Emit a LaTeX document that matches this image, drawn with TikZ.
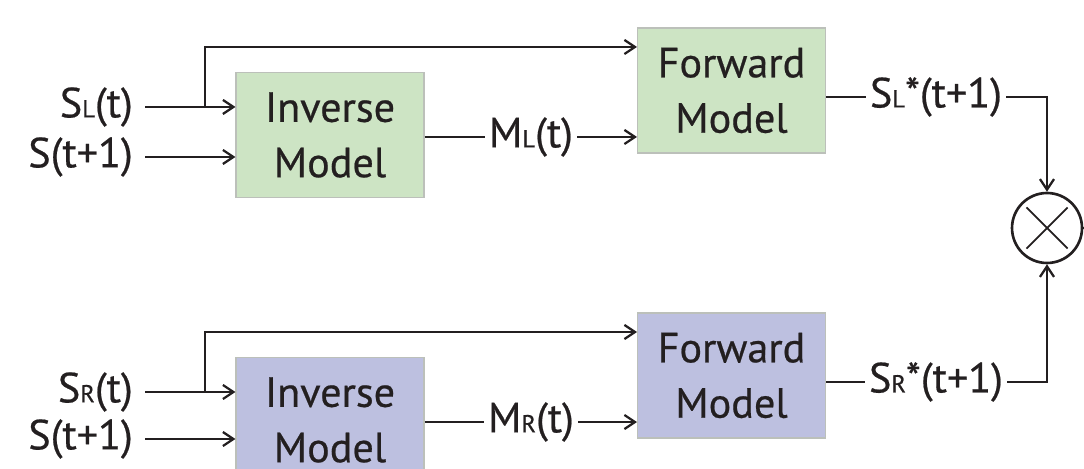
\documentclass[tikz,border=0pt]{standalone}
\usepackage{fontspec}
\setmainfont{PT Sans}[FakeBold=0.5]
\usetikzlibrary{arrows.meta, calc, positioning}

\definecolor{boxgreen}{RGB}{205,228,196}
\definecolor{boxblue}{RGB}{189,192,224}
\definecolor{boxedge}{RGB}{188,192,186}
\definecolor{ink}{RGB}{35,31,32}

% small side index (L / R) set on the baseline
\newcommand{\sideidx}[1]{{\fontsize{14}{14}\selectfont #1}}

\begin{document}
\begin{tikzpicture}[x=0.02cm, y=-0.02cm, >={Straight Barb[length=6pt,width=8pt]},
	font=\fontsize{24}{31.5}\selectfont, color=ink, line width=1.3pt,
	model/.style={draw=boxedge, line width=0.6pt, text=ink, align=center,
		minimum width=3.76cm, minimum height=2.5cm, inner sep=0pt},
	lbl/.style={inner sep=0.06cm}]
	
	\useasboundingbox (0,0) rectangle (1084,469);
	
	% --- LEFT CHANNEL ---
	\node[model, fill=boxgreen] (invL) at (330,135) {Inverse\\Model};
	\node[model, fill=boxgreen] (fwdL) at (731.5,90.5) {Forward\\Model};
	
	\node[lbl, anchor=east] (sl) at (137,107) {S\sideidx{L}(t)};
	\node[lbl, anchor=east] (snextL) at (137,157) {S(t+1)};
	\draw[->] ([xshift=0.16cm]sl.east) -- (sl.east -| invL.west);
	\draw[->] ([xshift=0.16cm]snextL.east) -- (snextL.east -| invL.west);
	
	\coordinate (slfork) at (205,107);
	\coordinate (sltop) at (205,47);
	\draw[->] (slfork) -- (sltop) -- (sltop -| fwdL.west);
	
	\node[lbl] (ml) at (531,137) {M\sideidx{L}(t)};
	\draw (invL.east |- ml) -- (ml.west);
	\draw[->] (ml.east) -- (ml -| fwdL.west);
	
	% --- RIGHT CHANNEL ---
	\node[model, fill=boxblue] (invR) at (330,420) {Inverse\\Model};
	\node[model, fill=boxblue] (fwdR) at (731.5,375.5) {Forward\\Model};
	
	\node[lbl, anchor=east] (sr) at (137,392) {S\sideidx{R}(t)};
	\node[lbl, anchor=east] (snextR) at (137,439) {S(t+1)};
	\draw[->] ([xshift=0.16cm]sr.east) -- (sr.east -| invR.west);
	\draw[->] ([xshift=0.16cm]snextR.east) -- (snextR.east -| invR.west);
	
	\coordinate (srfork) at (205,392);
	\coordinate (srtop) at (205,332);
	\draw[->] (srfork) -- (srtop) -- (srtop -| fwdR.west);
	
	\node[lbl] (mr) at (531,422) {M\sideidx{R}(t)};
	\draw (invR.east |- mr) -- (mr.west);
	\draw[->] (mr.east) -- (mr -| fwdR.west);
	
	% --- COMBINATION ---
	\node[circle, draw, line width=1.5pt, minimum size=1.4cm, inner sep=0pt] (mul) at (1047,228) {};
	\draw[line width=1pt] ($(mul)!0.8!(mul.north west)$) -- ($(mul)!0.8!(mul.south east)$);
	\draw[line width=1pt] ($(mul)!0.8!(mul.north east)$) -- ($(mul)!0.8!(mul.south west)$);
	
	\node[lbl] (slstar) at (936,97) {S\sideidx{L}*(t+1)};
	\draw (fwdL.east |- slstar) -- (slstar.west);
	\draw[->] (slstar.east) -| (mul.north);
	
	\node[lbl] (srstar) at (936,382) {S\sideidx{R}*(t+1)};
	\draw (fwdR.east |- srstar) -- (srstar.west);
	\draw[->] (srstar.east) -| (mul.south);
	
	% output (leaves the frame)
	\draw[line width=1.5pt] (mul.east) -- ++(0.4cm,0);
	
\end{tikzpicture}
\end{document}
